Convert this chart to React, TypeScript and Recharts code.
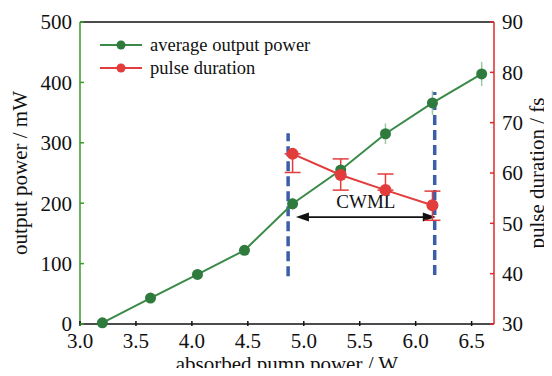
import React from 'react';
import { ComposedChart, Line, XAxis, YAxis, ErrorBar, ReferenceLine } from 'recharts';

// Absorbed pump power (W) at each measurement
const pumpPower = [3.2, 3.63, 4.05, 4.47, 4.9, 5.33, 5.73, 6.15, 6.59];
// Average output power (mW) and its spread
const outputPower = [2, 43, 82, 122, 199, 255, 315, 366, 414];
const outputPowerError = [0, 0, 0, 0, 10, 8, 17, 20, 20];
// Pulse duration (fs), measured only in the CW mode-locked range
const pulseDuration = [null, null, null, null, 63.8, 59.6, 56.6, 53.6, null];
const pulseDurationError = [null, null, null, null, [3.7, 0], [3, 3.2], [0, 3.2], [3, 2.8], null];

const xTicks = [3.0, 3.5, 4.0, 4.5, 5.0, 5.5, 6.0, 6.5];
const powerTicks = [0, 100, 200, 300, 400, 500];
const durationTicks = [30, 40, 50, 60, 70, 80, 90];

// CW mode-locking window: boundary markers (x, y-span in mW) and the arrow
const cwmlLeft = { x: 4.86, from: 79, to: 316 };
const cwmlRight = { x: 6.17, from: 81, to: 384 };
const cwmlArrow = { from: 4.93, to: 6.18, y: 177 };

const data = pumpPower.map((x, i) => ({
  x,
  power: outputPower[i],
  powerErr: outputPowerError[i],
  duration: pulseDuration[i],
  durationErr: pulseDurationError[i],
}));

const FONT = '"Liberation Serif", "Times New Roman", serif';
const GREEN = '#3a8a48';
const GREEN_DOT = '#2f7a3d';
const GREEN_AXIS = '#3a9a2a';
const RED = '#e23c3c';
const RED_AXIS = '#e02a2a';
const BLUE = '#3c5ea8';
const FS = 21;

const LeftTick = (props: any) => {
  const { x, y, payload } = props;
  return (
    <g>
      <line x1={x + 8} x2={x + 12} y1={y} y2={y} stroke={GREEN_AXIS} strokeWidth={1.5} />
      <text x={x} y={y} dy="0.35em" textAnchor="end" fontFamily={FONT} fontSize={FS} fill="#111">
        {payload.value}
      </text>
    </g>
  );
};

const RightTick = (props: any) => {
  const { x, y, payload } = props;
  return (
    <g>
      <line x1={x - 8} x2={x - 12} y1={y} y2={y} stroke={RED_AXIS} strokeWidth={1.5} />
      <text x={x} y={y} dy="0.35em" textAnchor="start" fontFamily={FONT} fontSize={FS} fill="#111">
        {payload.value}
      </text>
    </g>
  );
};

const BottomTick = (props: any) => {
  const { x, y, payload } = props;
  return (
    <g>
      <line x1={x} x2={x} y1={y - 7} y2={y - 12} stroke="#111" strokeWidth={1.5} />
      <text x={x} y={y} dy="0.72em" textAnchor="middle" fontFamily={FONT} fontSize={FS} fill="#111">
        {Number(payload.value).toFixed(1)}
      </text>
    </g>
  );
};

const ArrowShape = (props: any) => {
  const { x1, x2, y1 } = props;
  const left = Math.min(x1, x2);
  const right = Math.max(x1, x2);
  const y = y1;
  return (
    <g>
      <line x1={left + 6} x2={right - 6} y1={y} y2={y} stroke="#111" strokeWidth={1.8} />
      <polygon points={`${left},${y} ${left + 13},${y - 4.5} ${left + 13},${y + 4.5}`} fill="#111" />
      <polygon points={`${right},${y} ${right - 13},${y - 4.5} ${right - 13},${y + 4.5}`} fill="#111" />
      <text x={(left + right) / 2} y={y - 9} textAnchor="middle" fontFamily={FONT} fontSize={19} fill="#111">
        CWML
      </text>
    </g>
  );
};

const legendItems = [
  { label: 'average output power', color: GREEN, dot: GREEN_DOT },
  { label: 'pulse duration', color: RED, dot: RED },
];

const SeriesLegend = () => (
  <svg width={260} height={50} style={{ position: 'absolute', left: 96, top: 33 }}>
    {legendItems.map((it, i) => {
      const cy = 12 + i * 23;
      return (
        <g key={it.label}>
          <line x1={4} x2={46} y1={cy} y2={cy} stroke={it.color} strokeWidth={2} />
          <circle cx={25} cy={cy} r={4.5} fill={it.dot} />
          <text x={54} y={cy} dy="0.35em" fontFamily={FONT} fontSize={18.5} fill="#111">
            {it.label}
          </text>
        </g>
      );
    })}
  </svg>
);

export default function App() {
  return (
    <div style={{ margin: -8, width: 552, height: 376, background: '#fff', position: 'relative' }}>
      <ComposedChart width={552} height={376} data={data} margin={{ top: 22, right: 0, bottom: 0, left: 0 }}>
        <XAxis
          dataKey="x"
          type="number"
          domain={[3.0, 6.7]}
          ticks={xTicks}
          height={52}
          tickLine={false}
          tickSize={0}
          tickMargin={9}
          axisLine={{ stroke: '#111', strokeWidth: 1.5 }}
          tick={<BottomTick />}
          label={{ value: 'absorbed pump power / W', position: 'insideBottom', offset: 5, fontFamily: FONT, fontSize: FS, fill: '#111' }}
        />
        <YAxis
          yAxisId="p"
          orientation="left"
          domain={[0, 500]}
          ticks={powerTicks}
          width={80}
          tickLine={false}
          tickSize={0}
          tickMargin={8}
          axisLine={{ stroke: GREEN_AXIS, strokeWidth: 1.5 }}
          tick={<LeftTick />}
          label={{ value: 'output power / mW', angle: -90, position: 'center', dx: -20, fontFamily: FONT, fontSize: FS, fill: '#111', style: { textAnchor: 'middle' } }}
        />
        <YAxis
          yAxisId="d"
          orientation="right"
          domain={[30, 90]}
          ticks={durationTicks}
          width={58}
          tickLine={false}
          tickSize={0}
          tickMargin={8}
          axisLine={{ stroke: RED_AXIS, strokeWidth: 1.5 }}
          tick={<RightTick />}
          label={{ value: 'pulse duration / fs', angle: -90, position: 'center', dx: 14, fontFamily: FONT, fontSize: FS, fill: '#111', style: { textAnchor: 'middle' } }}
        />
        <ReferenceLine yAxisId="p" y={500} stroke="#111" strokeWidth={1.5} />

        <ReferenceLine
          yAxisId="p"
          segment={[{ x: cwmlLeft.x, y: cwmlLeft.from }, { x: cwmlLeft.x, y: cwmlLeft.to }]}
          stroke={BLUE}
          strokeWidth={3.5}
          strokeDasharray="10 5"
        />
        <ReferenceLine
          yAxisId="p"
          segment={[{ x: cwmlRight.x, y: cwmlRight.from }, { x: cwmlRight.x, y: cwmlRight.to }]}
          stroke={BLUE}
          strokeWidth={3.5}
          strokeDasharray="10 5"
        />
        <ReferenceLine
          yAxisId="p"
          segment={[{ x: cwmlArrow.from, y: cwmlArrow.y }, { x: cwmlArrow.to, y: cwmlArrow.y }]}
          shape={(p: any) => <ArrowShape {...p} />}
        />

        <Line
          yAxisId="p"
          dataKey="power"
          stroke={GREEN}
          strokeWidth={2}
          dot={{ r: 5.5, fill: GREEN_DOT, stroke: GREEN_DOT, strokeWidth: 0 }}
          activeDot={false}
          isAnimationActive={false}
        >
          <ErrorBar dataKey="powerErr" direction="y" width={0} stroke="#9cc9a2" strokeWidth={1.5} />
        </Line>
        <Line
          yAxisId="d"
          dataKey="duration"
          stroke={RED}
          strokeWidth={2}
          dot={{ r: 6, fill: RED, stroke: RED, strokeWidth: 0 }}
          activeDot={false}
          isAnimationActive={false}
        >
          <ErrorBar dataKey="durationErr" direction="y" width={8} stroke={RED} strokeWidth={1.5} />
        </Line>
      </ComposedChart>
      <SeriesLegend />
    </div>
  );
}
